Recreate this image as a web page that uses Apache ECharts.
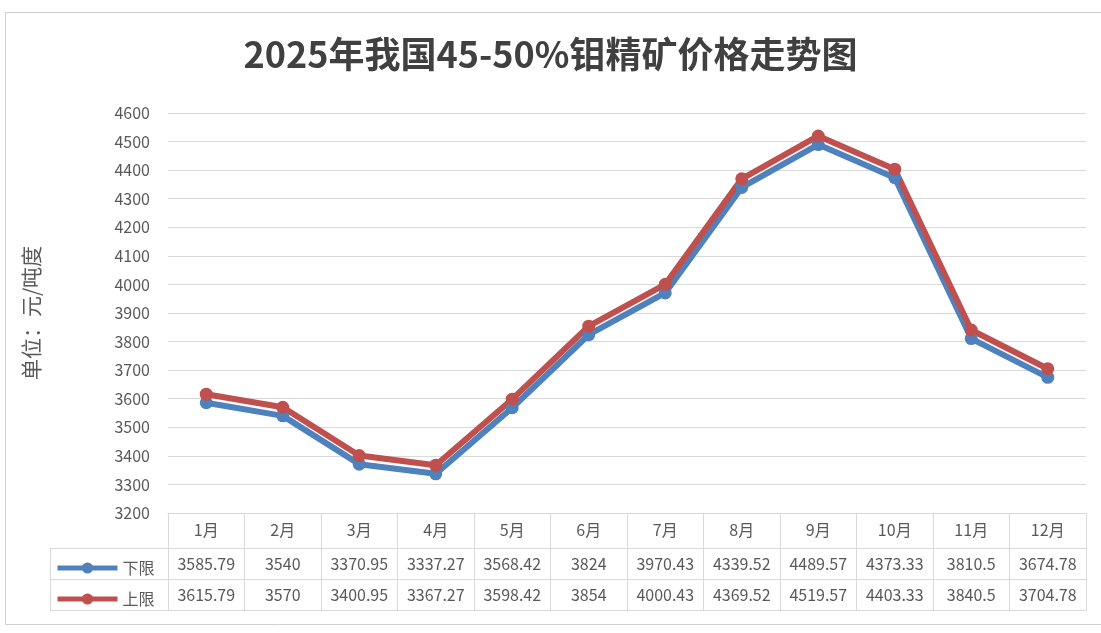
<!DOCTYPE html>
<html>
<head>
<meta charset="utf-8">
<script src="https://cdn.jsdelivr.net/npm/echarts@6/dist/echarts.min.js"></script>
<style>html,body{margin:0;padding:0;background:#fff;}#c{width:1101px;height:633px;}</style>
</head>
<body>
<div id="c"></div>
<script>
const titleText = '2025年我国45-50%钼精矿价格走势图';
const yAxisName = '单位：元/吨度';
const months = ['1月','2月','3月','4月','5月','6月','7月','8月','9月','10月','11月','12月'];
const lowerName = '下限';
const upperName = '上限';
const lower = [3585.79, 3540, 3370.95, 3337.27, 3568.42, 3824, 3970.43, 4339.52, 4489.57, 4373.33, 3810.5, 3674.78];
const upper = [3615.79, 3570, 3400.95, 3367.27, 3598.42, 3854, 4000.43, 4369.52, 4519.57, 4403.33, 3840.5, 3704.78];
const yMin = 3200, yMax = 4600, yStep = 100;

const FONT = '"Noto Sans CJK SC", "Noto Sans", sans-serif';
const TXT = '#595959';
const GRID = '#d9d9d9';
const BLUE = '#4f81bd';
const RED = '#c0504d';

const chart = echarts.init(document.getElementById('c'));

function tableAxis(offset, values, showLabel) {
  return {
    type: 'category', data: months, position: 'bottom', offset: offset,
    boundaryGap: true,
    axisLine: { show: true, lineStyle: { color: GRID, width: 1 } },
    axisTick: { show: false },
    axisLabel: {
      show: showLabel, interval: 0, margin: 8, color: TXT, fontSize: 16, fontFamily: FONT,
      formatter: (v, i) => values ? String(values[i]) : v
    },
    splitLine: { show: false }
  };
}

const legendCommon = {
  left: 50, itemWidth: 60, itemHeight: 14, itemGap: 6,
  lineStyle: { width: 5 },
  textStyle: { fontSize: 16, color: TXT, fontFamily: FONT }
};

const option = {
  backgroundColor: '#fff',
  animation: false,
  title: {
    text: titleText, left: 'center', top: 31,
    textStyle: { fontSize: 36, fontWeight: 'bold', color: '#404040', fontFamily: FONT }
  },
  legend: [
    Object.assign({ data: [lowerName], top: 555 }, legendCommon),
    Object.assign({ data: [upperName], top: 586 }, legendCommon)
  ],
  grid: { left: 168, right: 15, top: 113, bottom: 120, containLabel: false },
  xAxis: [
    {
      type: 'category', data: months, position: 'bottom', offset: 0, boundaryGap: true,
      axisLine: { show: true, lineStyle: { color: GRID, width: 1 } },
      axisTick: { show: true, interval: 0, length: 97, inside: false, lineStyle: { color: GRID, width: 1 } },
      axisLabel: { interval: 0, margin: 9, color: TXT, fontSize: 16, fontFamily: FONT },
      splitLine: { show: false }
    },
    tableAxis(35, lower, true),
    tableAxis(66, upper, true),
    tableAxis(97, null, false)
  ],
  yAxis: {
    type: 'value', min: yMin, max: yMax, interval: yStep,
    name: yAxisName, nameLocation: 'middle', nameGap: 126, nameRotate: 90,
    nameTextStyle: { fontSize: 21, color: TXT, fontFamily: FONT },
    axisLine: { show: false }, axisTick: { show: false },
    axisLabel: { margin: 18, color: TXT, fontSize: 16, fontFamily: FONT, formatter: v => String(v) },
    splitLine: { show: true, lineStyle: { color: GRID, width: 1 } }
  },
  series: [
    { name: lowerName, type: 'line', data: lower, xAxisIndex: 0,
      symbol: 'circle', symbolSize: 13,
      lineStyle: { color: BLUE, width: 6 }, itemStyle: { color: BLUE } },
    { name: upperName, type: 'line', data: upper, xAxisIndex: 0,
      symbol: 'circle', symbolSize: 13,
      lineStyle: { color: RED, width: 6 }, itemStyle: { color: RED } }
  ],
  graphic: [
    { type: 'rect', shape: { x: 5.5, y: 12.5, width: 1200, height: 612 }, style: { fill: null, stroke: '#d0d0d0', lineWidth: 1 }, silent: true },
    { type: 'line', shape: { x1: 50, y1: 548.5, x2: 168, y2: 548.5 }, style: { stroke: GRID, lineWidth: 1 }, silent: true },
    { type: 'line', shape: { x1: 50, y1: 579.5, x2: 168, y2: 579.5 }, style: { stroke: GRID, lineWidth: 1 }, silent: true },
    { type: 'line', shape: { x1: 50, y1: 610.5, x2: 168, y2: 610.5 }, style: { stroke: GRID, lineWidth: 1 }, silent: true },
    { type: 'line', shape: { x1: 50.5, y1: 548, x2: 50.5, y2: 611 }, style: { stroke: GRID, lineWidth: 1 }, silent: true }
  ]
};
chart.setOption(option);
</script>
</body>
</html>
